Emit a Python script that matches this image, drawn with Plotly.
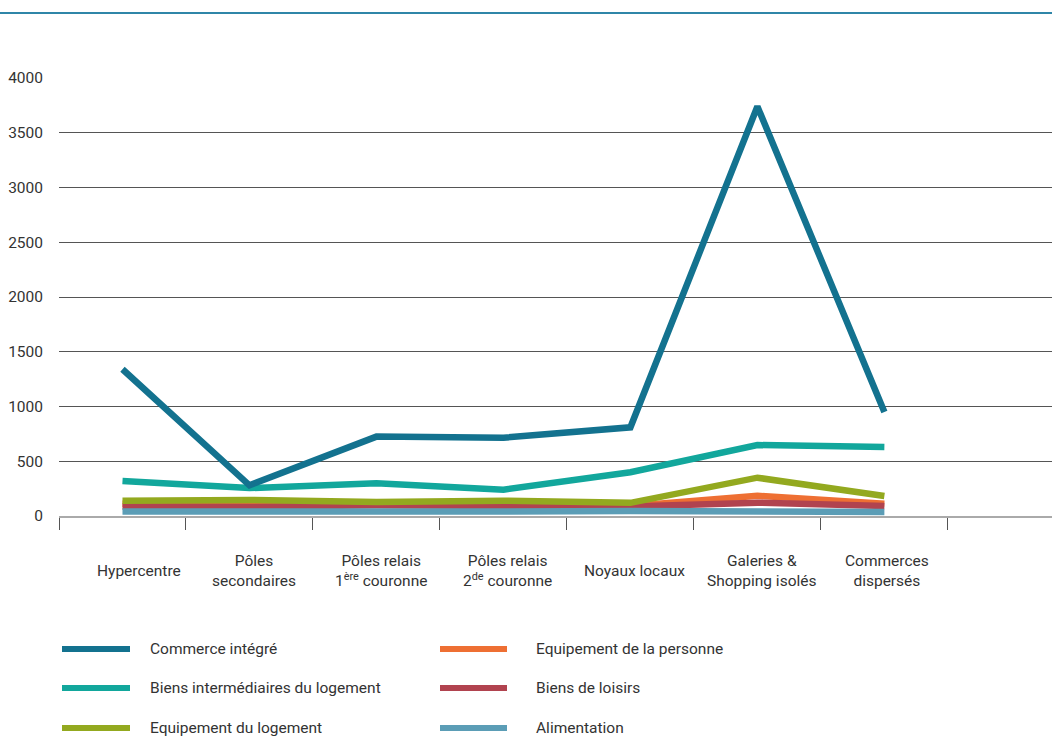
import plotly.graph_objects as go

categories = ["Hypercentre", "Pôles secondaires", "Pôles relais 1ère couronne",
              "Pôles relais 2de couronne", "Noyaux locaux",
              "Galeries & Shopping isolés", "Commerces dispersés"]
category_labels = ["Hypercentre", "Pôles<br>secondaires", "Pôles relais<br>1<sup>ère</sup> couronne",
                   "Pôles relais<br>2<sup>de</sup> couronne", "Noyaux locaux",
                   "Galeries &<br>Shopping isolés", "Commerces<br>dispersés"]

commerce_integre = [1340, 280, 725, 715, 810, 3740, 950]
biens_intermediaires = [320, 255, 300, 240, 400, 648, 630]
equipement_logement = [140, 146, 128, 140, 120, 350, 183]
equipement_personne = [112, 110, 100, 100, 92, 185, 112]
biens_loisirs = [86, 82, 98, 95, 86, 122, 92]
alimentation = [40, 37, 42, 40, 45, 40, 36]

series_names = ["Commerce intégré", "Biens intermédiaires du logement", "Equipement du logement",
                "Equipement de la personne", "Biens de loisirs", "Alimentation"]
series_values = [commerce_integre, biens_intermediaires, equipement_logement,
                 equipement_personne, biens_loisirs, alimentation]
series_colors = ["#13728f", "#12a79c", "#93a91f", "#ee6f33", "#b1434f", "#5b9db6"]
draw_order = [3, 4, 5, 2, 1, 0]
y_ticks = [0, 500, 1000, 1500, 2000, 2500, 3000, 3500, 4000]

FONT = "Roboto, sans-serif"
W, H = 1052, 737
L, R, T, B = 59, 0, 78, 221
PW, PH = W - L - R, H - T - B


def px(x):
    return (x - L) / PW


def py(y):
    return (H - B - y) / PH


fig = go.Figure()
for i in draw_order:
    fig.add_trace(go.Scatter(
        x=categories, y=series_values[i], name=series_names[i], mode="lines",
        line=dict(color=series_colors[i], width=6.5), showlegend=False,
        cliponaxis=False, hoverinfo="x+y+name"))

# category labels (centered vertically)
label_shift = [17, 5, 5, 4, 4, 4, 3]
for cat, lab, sh in zip(categories, category_labels, label_shift):
    fig.add_annotation(x=cat, xref="x", y=py(571), yref="paper", text=lab,
                       showarrow=False, xanchor="center", yanchor="middle", xshift=sh,
                       font=dict(family=FONT, size=15.5, color="#333333"), align="center")

# manual legend: two columns
leg_cols = [(62, 130, 148), (440, 507, 534)]
leg_rows = [649, 688, 728]
for k, name in enumerate(series_names):
    c, r = divmod(k, 3)
    x0, x1, tx = leg_cols[c]
    yy = leg_rows[r]
    fig.add_shape(type="line", xref="paper", yref="paper", x0=px(x0), x1=px(x1),
                  y0=py(yy), y1=py(yy), line=dict(color=series_colors[k], width=6))
    fig.add_annotation(x=px(tx), y=py(yy), xref="paper", yref="paper", text=name,
                       showarrow=False, xanchor="left", yanchor="middle",
                       font=dict(family=FONT, size=15.5, color="#333333"))

# top decorative rule
fig.add_shape(type="line", xref="paper", yref="paper", x0=px(0), x1=px(W),
              y0=py(13), y1=py(13), line=dict(color="#2f86a8", width=2))

fig.update_layout(
    width=W, height=H,
    margin=dict(l=L, r=R, t=T, b=B, pad=0),
    paper_bgcolor="white", plot_bgcolor="white",
    showlegend=False,
    font=dict(family=FONT, size=15.5, color="#333333"),
    xaxis=dict(type="category", categoryorder="array", categoryarray=categories,
               range=[-0.5, 7.32], tickson="boundaries", ticks="outside", ticklen=12,
               tickcolor="#555555", tickwidth=1.3, showticklabels=False,
               showgrid=False, zeroline=False, showline=True, linecolor="#aaaaaa",
               linewidth=2),
    yaxis=dict(range=[0, 4000], tickvals=y_ticks, showgrid=True, gridcolor="#555555",
               gridwidth=1.3, zeroline=False, showline=False, ticks="",
               ticklabelstandoff=15, tickfont=dict(family=FONT, size=15.5, color="#333333")),
)

fig.write_html("out.html")
